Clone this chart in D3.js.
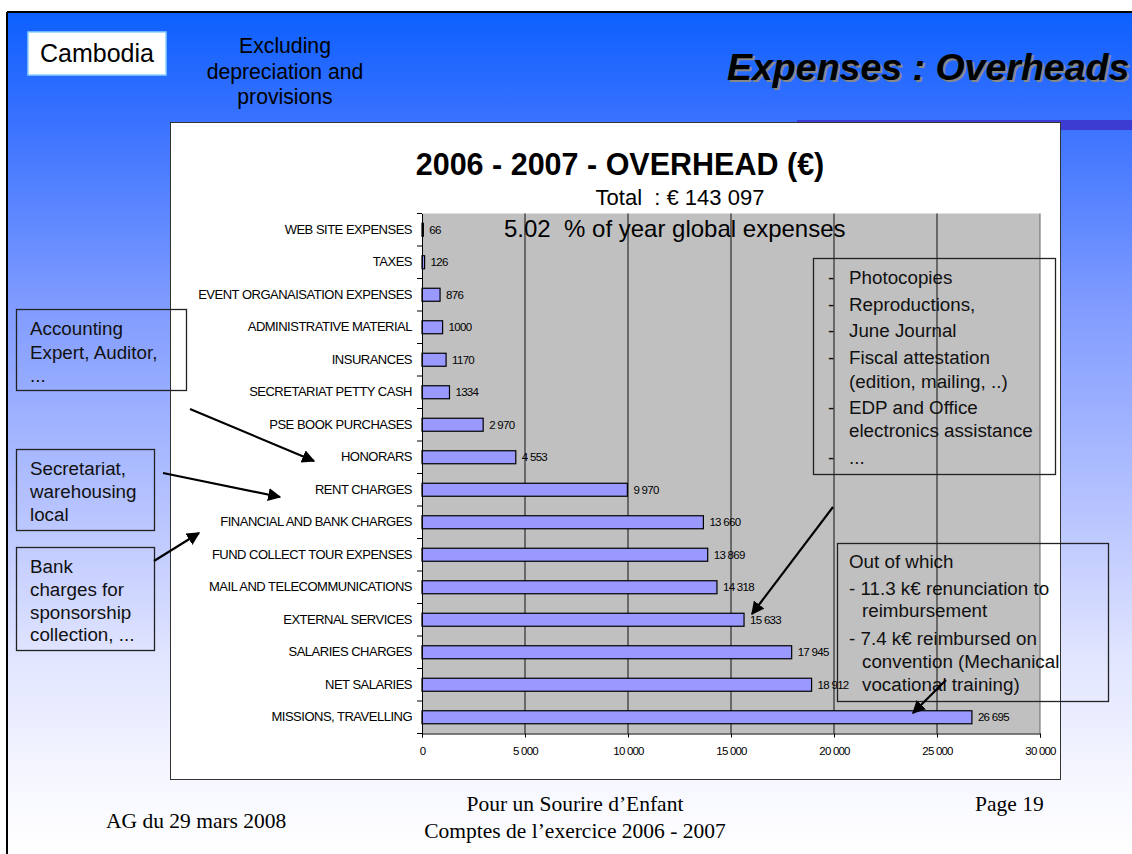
<!DOCTYPE html>
<html>
<head>
<meta charset="utf-8">
<script src="https://cdn.jsdelivr.net/npm/d3@7"></script>
<style>
  body { margin: 0; background: #fff; }
  svg { display: block; font-family: "Liberation Sans", Arial, sans-serif; }
</style>
</head>
<body>
<svg id="slide" width="1132" height="854"></svg>
<script>
// overhead categories, top to bottom
const categories = ["WEB SITE EXPENSES", "TAXES", "EVENT ORGANAISATION EXPENSES", "ADMINISTRATIVE MATERIAL",
  "INSURANCES", "SECRETARIAT PETTY CASH", "PSE BOOK PURCHASES", "HONORARS", "RENT CHARGES",
  "FINANCIAL AND BANK CHARGES", "FUND COLLECT TOUR EXPENSES", "MAIL AND TELECOMMUNICATIONS",
  "EXTERNAL SERVICES", "SALARIES CHARGES", "NET SALARIES", "MISSIONS, TRAVELLING"];
const values = [66, 126, 876, 1000, 1170, 1334, 2970, 4553, 9970, 13660, 13869, 14318, 15633, 17945, 18912, 26695];
const valueLabels = ["66", "126", "876", "1000", "1170", "1334", "2 970", "4 553", "9 970", "13 660",
  "13 869", "14 318", "15 633", "17 945", "18 912", "26 695"];
const xTicks = [0, 5000, 10000, 15000, 20000, 25000, 30000];

const fmt = d3.formatLocale({decimal: ",", thousands: " ", grouping: [3], currency: ["", "€"]}).format(",");

let svg = d3.select("#slide");
let defs = svg.append("defs");

let grad = defs.append("linearGradient").attr("id", "bg")
  .attr("x1", 0).attr("y1", 0).attr("x2", 0).attr("y2", 1);
[[0, "#0d60ff"], [0.13, "#3a72ff"], [0.35, "#819cff"], [0.6, "#b9c5ff"], [0.76, "#e0e4ff"], [0.92, "#f7f8ff"], [1, "#ffffff"]]
  .forEach(s => grad.append("stop").attr("offset", s[0]).attr("stop-color", s[1]));

defs.append("marker").attr("id", "head")
  .attr("viewBox", "0 0 10 10").attr("refX", 9).attr("refY", 5)
  .attr("markerWidth", 6).attr("markerHeight", 6).attr("orient", "auto")
  .append("path").attr("d", "M0,0 L10,5 L0,10 z").attr("fill", "#000");

// slide background
svg.append("rect").attr("x", 8).attr("y", 13).attr("width", 1124).attr("height", 841).attr("fill", "url(#bg)");
svg.append("line").attr("x1", 7).attr("y1", 12).attr("x2", 1132).attr("y2", 12).attr("stroke", "#000").attr("stroke-width", 2);
svg.append("line").attr("x1", 7).attr("y1", 12).attr("x2", 7).attr("y2", 854).attr("stroke", "#000").attr("stroke-width", 2);
svg.append("rect").attr("x", 797).attr("y", 120).attr("width", 335).attr("height", 10).attr("fill", "#3c3cd2");

// header
svg.append("rect").attr("x", 28).attr("y", 32).attr("width", 138).attr("height", 43)
  .attr("fill", "#fff").attr("stroke", "#8ad0ff").attr("stroke-width", 1.5);
svg.append("text").attr("x", 97).attr("y", 62).attr("text-anchor", "middle")
  .attr("font-size", 25).text("Cambodia");

let excl = svg.append("text").attr("text-anchor", "middle").attr("font-size", 21.2);
["Excluding", "depreciation and", "provisions"].forEach((t, i) =>
  excl.append("tspan").attr("x", 285).attr("y", 53 + i * 25.5).text(t));

svg.append("text").attr("x", 729).attr("y", 82).attr("font-size", 37.5)
  .attr("font-weight", "bold").attr("font-style", "italic").attr("fill", "#888").text("Expenses : Overheads");
svg.append("text").attr("x", 727).attr("y", 80).attr("font-size", 37.5)
  .attr("font-weight", "bold").attr("font-style", "italic").attr("fill", "#000").text("Expenses : Overheads");

// chart box
svg.append("rect").attr("x", 170.5).attr("y", 122.5).attr("width", 890).attr("height", 657)
  .attr("fill", "#fff").attr("stroke", "#333");

let x = d3.scaleLinear().domain([0, 30000]).range([422, 1040]);
let y = d3.scaleBand().domain(categories).range([213.5, 733.5]).paddingInner(0.6).paddingOuter(0.3);

svg.append("rect").attr("x", x(0)).attr("y", 213.5).attr("width", x(30000) - x(0)).attr("height", 520)
  .attr("fill", "#c0c0c0");

svg.append("g").selectAll("line").data(xTicks.slice(1)).join("line")
  .attr("x1", d => x(d)).attr("x2", d => x(d))
  .attr("y1", 213.5).attr("y2", 733.5)
  .attr("stroke", d => d === 30000 ? "#666" : "#111").attr("stroke-width", 1);

// titles
svg.append("text").attr("x", 620).attr("y", 175).attr("text-anchor", "middle")
  .attr("font-size", 30.5).attr("font-weight", "bold").text("2006 - 2007 - OVERHEAD (€)");
svg.append("text").attr("x", 680).attr("y", 205).attr("text-anchor", "middle")
  .attr("font-size", 22).attr("xml:space", "preserve").text("Total  : € 143 097");
svg.append("text").attr("x", 504).attr("y", 237)
  .attr("font-size", 24).attr("xml:space", "preserve").text("5.02  % of year global expenses");

// bars
svg.append("g").selectAll("rect").data(values).join("rect")
  .attr("x", x(0))
  .attr("y", (d, i) => y(categories[i]))
  .attr("width", d => x(d) - x(0))
  .attr("height", y.bandwidth())
  .attr("fill", "#9999ff").attr("stroke", "#000").attr("stroke-width", 1.2);

svg.append("g").selectAll("text").data(values).join("text")
  .attr("x", d => x(d) + 6)
  .attr("y", (d, i) => y(categories[i]) + y.bandwidth() / 2 + 4)
  .attr("font-size", 11.5).attr("letter-spacing", -0.7)
  .text((d, i) => valueLabels[i]);

// axes
let yAxis = svg.append("g").attr("transform", `translate(${x(0)},0)`)
  .call(d3.axisLeft(y).tickSize(0).tickPadding(10));
yAxis.select(".domain").attr("stroke", "#000");
yAxis.selectAll("text").attr("font-size", 13).attr("letter-spacing", -0.5)
  .attr("font-family", "Liberation Sans, Arial, sans-serif").attr("fill", "#000");

svg.append("g").selectAll("line").data(d3.range(categories.length + 1)).join("line")
  .attr("x1", x(0) - 5).attr("x2", x(0))
  .attr("y1", i => y.range()[0] + i * y.step())
  .attr("y2", i => y.range()[0] + i * y.step())
  .attr("stroke", "#000");

let xAxis = svg.append("g").attr("transform", "translate(0,733.5)")
  .call(d3.axisBottom(x).tickValues(xTicks).tickFormat(fmt).tickSize(4).tickPadding(9));
xAxis.selectAll("text").attr("font-size", 11.5).attr("letter-spacing", -0.8)
  .attr("font-family", "Liberation Sans, Arial, sans-serif").attr("fill", "#000");
xAxis.selectAll("line, path").attr("stroke", "#000");

// annotation boxes
function noteBox(bx, by, bw, bh, lines) {
  svg.append("rect").attr("x", bx + 0.5).attr("y", by + 0.5).attr("width", bw).attr("height", bh)
    .attr("fill", "none").attr("stroke", "#222").attr("stroke-width", 1.3);
  let t = svg.append("text").attr("font-size", 18.8).attr("fill", "#111");
  lines.forEach(l => t.append("tspan").attr("x", l[0]).attr("y", l[1]).text(l[2]));
}

noteBox(16, 309, 170, 81, [[30, 335, "Accounting"], [30, 359, "Expert, Auditor,"], [30, 382, "..."]]);
noteBox(16, 449, 138, 81, [[30, 475, "Secretariat,"], [30, 498, "warehousing"], [30, 521, "local"]]);
noteBox(16, 547, 138, 103, [[30, 573, "Bank"], [30, 596, "charges for"], [30, 619, "sponsorship"], [30, 641, "collection, ..."]]);

noteBox(813, 258, 242, 216, [
  [828, 284, "-"], [849, 284, "Photocopies"],
  [828, 311, "-"], [849, 311, "Reproductions,"],
  [828, 337, "-"], [849, 337, "June Journal"],
  [828, 364, "-"], [849, 364, "Fiscal attestation"],
  [849, 388, "(edition, mailing, ..)"],
  [828, 414, "-"], [849, 414, "EDP and Office"],
  [849, 437, "electronics assistance"],
  [828, 464, "-"], [849, 464, "..."]]);

noteBox(837, 543, 271, 158, [
  [849, 568, "Out of which"],
  [849, 595, "- 11.3 k€ renunciation to"],
  [862, 617, "reimbursement"],
  [849, 645, "- 7.4 k€ reimbursed on"],
  [862, 668, "convention (Mechanical"],
  [862, 691, "vocational training)"]]);

// arrows
[[190, 409, 314, 461], [163, 473, 280, 497], [154, 561, 199, 533], [833, 507, 752, 614], [946, 680, 913, 713]]
  .forEach(a => svg.append("line")
    .attr("x1", a[0]).attr("y1", a[1]).attr("x2", a[2]).attr("y2", a[3])
    .attr("stroke", "#000").attr("stroke-width", 2.2).attr("marker-end", "url(#head)"));

// footer
let foot = svg.append("g").attr("font-family", "Liberation Serif, Times New Roman, serif").attr("font-size", 21.5);
foot.append("text").attr("x", 106).attr("y", 828).text("AG du 29 mars 2008");
foot.append("text").attr("x", 575).attr("y", 811).attr("text-anchor", "middle").text("Pour un Sourire d’Enfant");
foot.append("text").attr("x", 575).attr("y", 838).attr("text-anchor", "middle").text("Comptes de l’exercice 2006 - 2007");
foot.append("text").attr("x", 975).attr("y", 811).text("Page 19");
</script>
</body>
</html>
